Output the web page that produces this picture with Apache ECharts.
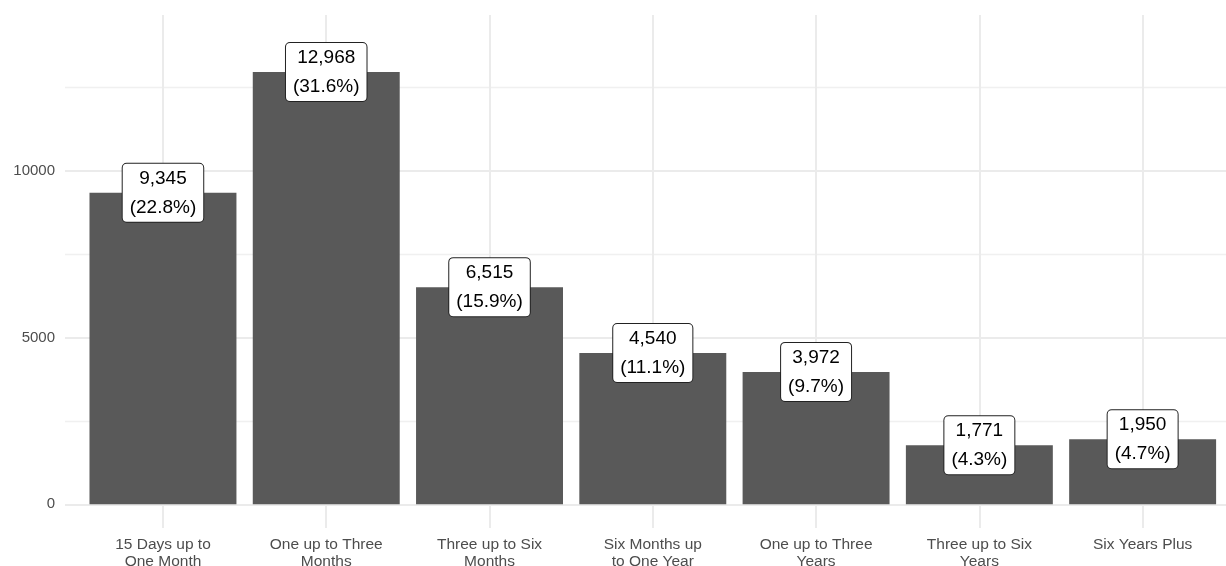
<!DOCTYPE html>
<html>
<head>
<meta charset="utf-8">
<script src="https://cdn.jsdelivr.net/npm/echarts@6/dist/echarts.min.js"></script>
<style>
html,body{margin:0;padding:0;background:#fff;}
#chart{width:1226px;height:566px;}
</style>
</head>
<body>
<div id="chart"></div>
<script>
var categories = ['15 Days up to\nOne Month', 'One up to Three\nMonths', 'Three up to Six\nMonths', 'Six Months up\nto One Year', 'One up to Three\nYears', 'Three up to Six\nYears', 'Six Years Plus'];
var counts = [9345, 12968, 6515, 4540, 3972, 1771, 1950];
var percents = [22.8, 31.6, 15.9, 11.1, 9.7, 4.3, 4.7];
var yTicks = [0, 5000, 10000];
var yMinorTicks = [2500, 7500, 12500];

var positions = categories.map(function (c, i) { return i + 1; });
var barData = counts.map(function (v, i) { return [positions[i], v]; });
var labelData = counts.map(function (v, i) { return [positions[i], v, percents[i]]; });

var FONT = 'Liberation Sans, Arial, Helvetica, sans-serif';
var chart = echarts.init(document.getElementById('chart'), null, {renderer: 'canvas'});
chart.setOption({
  animation: false,
  backgroundColor: '#ffffff',
  grid: {left: 65, top: 15, width: 1175.6, height: 513, containLabel: false, outerBoundsMode: 'none'},
  xAxis: {
    type: 'value', min: 0.4, max: 7.6,
    axisLine: {show: false}, axisTick: {show: false}, splitLine: {show: false},
    axisLabel: {
      customValues: positions,
      formatter: function (v) { return categories[Math.round(v) - 1] || ''; },
      color: '#4d4d4d', fontFamily: FONT, fontSize: 15.5, lineHeight: 17, margin: 8
    }
  },
  yAxis: {
    type: 'value', min: -711, max: 14680,
    axisLine: {show: false}, axisTick: {show: false}, splitLine: {show: false},
    axisLabel: {
      customValues: yTicks,
      formatter: function (v) { return String(v); },
      color: '#4d4d4d', fontFamily: FONT, fontSize: 15, margin: 10
    }
  },
  series: [
    {
      type: 'line', data: [], silent: true, z: 0,
      markLine: {
        silent: true, symbol: 'none', z: 0, animation: false,
        label: {show: false},
        emphasis: {disabled: true},
        data: []
          .concat(yMinorTicks.map(function (v) { return {yAxis: v, lineStyle: {color: '#f0f0f0', width: 1.3, type: 'solid'}}; }))
          .concat(yTicks.map(function (v) { return {yAxis: v, lineStyle: {color: '#ebebeb', width: 2, type: 'solid'}}; }))
          .concat(positions.map(function (v) { return {xAxis: v, lineStyle: {color: '#ebebeb', width: 2, type: 'solid'}}; }))
      }
    },
    {
      type: 'bar', data: barData, barWidth: '90%', z: 2,
      itemStyle: {color: '#595959'}, silent: true
    },
    {
      type: 'scatter', data: labelData, symbolSize: 0, z: 5, silent: true,
      itemStyle: {opacity: 1},
      label: {
        show: true, position: 'inside', opacity: 1,
        formatter: function (p) {
          return p.value[1].toLocaleString('en-US') + '\n(' + p.value[2].toFixed(1) + '%)';
        },
        color: '#000', fontFamily: FONT, fontSize: 19, lineHeight: 29,
        backgroundColor: '#fff', borderColor: '#222', borderWidth: 1, borderRadius: 4,
        padding: [0, 7, 0, 7], align: 'center', verticalAlign: 'middle'
      }
    }
  ]
});
</script>
</body>
</html>
